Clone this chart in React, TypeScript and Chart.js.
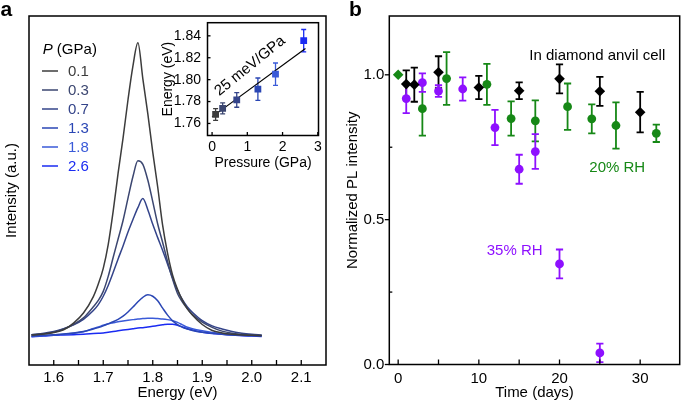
import React, { useEffect, useRef } from "react";
import { Chart, registerables } from "chart.js";

Chart.register(...registerables);

const FONT = "'Liberation Sans', Arial, Helvetica, sans-serif";
Chart.defaults.font.family = FONT;
Chart.defaults.color = "#000";

// ---------- Panel a: PL spectra ----------
const energy = [1.555, 1.58, 1.6, 1.62, 1.64, 1.66, 1.68, 1.69, 1.7, 1.71, 1.72, 1.73, 1.74, 1.75, 1.76, 1.77, 1.78, 1.79, 1.8, 1.81, 1.82, 1.83, 1.84, 1.85, 1.86, 1.87, 1.88, 1.9, 1.92, 1.94, 1.96, 1.98, 2.0, 2.02];
const int01 = [0.086, 0.089, 0.093, 0.101, 0.12, 0.149, 0.196, 0.232, 0.277, 0.345, 0.44, 0.55, 0.65, 0.76, 0.857, 0.923, 0.82, 0.72, 0.61, 0.51, 0.4, 0.32, 0.258, 0.217, 0.185, 0.161, 0.143, 0.116, 0.099, 0.092, 0.088, 0.086, 0.085, 0.084];
const int03 = [0.087, 0.089, 0.094, 0.103, 0.116, 0.135, 0.167, 0.185, 0.211, 0.254, 0.308, 0.361, 0.414, 0.478, 0.54, 0.585, 0.575, 0.53, 0.468, 0.404, 0.351, 0.296, 0.246, 0.205, 0.18, 0.161, 0.145, 0.123, 0.108, 0.097, 0.091, 0.088, 0.086, 0.085];
const int07 = [0.087, 0.091, 0.096, 0.104, 0.115, 0.131, 0.156, 0.173, 0.197, 0.228, 0.265, 0.304, 0.341, 0.381, 0.417, 0.451, 0.477, 0.445, 0.403, 0.365, 0.328, 0.289, 0.25, 0.214, 0.187, 0.166, 0.151, 0.127, 0.112, 0.103, 0.096, 0.091, 0.088, 0.086];
const int13 = [0.083, 0.085, 0.087, 0.089, 0.092, 0.096, 0.103, 0.107, 0.112, 0.118, 0.124, 0.131, 0.14, 0.152, 0.166, 0.181, 0.194, 0.201, 0.197, 0.184, 0.163, 0.143, 0.127, 0.116, 0.108, 0.103, 0.099, 0.094, 0.091, 0.088, 0.086, 0.085, 0.084, 0.084];
const int18 = [0.082, 0.084, 0.086, 0.088, 0.091, 0.095, 0.105, 0.109, 0.114, 0.118, 0.121, 0.124, 0.126, 0.128, 0.13, 0.132, 0.133, 0.134, 0.134, 0.133, 0.132, 0.13, 0.127, 0.122, 0.115, 0.108, 0.104, 0.098, 0.093, 0.09, 0.088, 0.086, 0.085, 0.084];
const int26 = [0.081, 0.083, 0.085, 0.086, 0.087, 0.088, 0.09, 0.091, 0.092, 0.094, 0.096, 0.098, 0.1, 0.102, 0.104, 0.106, 0.107, 0.109, 0.111, 0.113, 0.115, 0.117, 0.117, 0.114, 0.109, 0.104, 0.1, 0.094, 0.09, 0.088, 0.086, 0.084, 0.083, 0.082];
const pressureLabels = ["0.1", "0.3", "0.7", "1.3", "1.8", "2.6"];
const curves = [int01, int03, int07, int13, int18, int26];
const curveColors = ["#3c3c3c", "#3b4670", "#34448a", "#2a46b4", "#3a5ad8", "#1a2bf2"];
const energyTicks = [1.6, 1.65, 1.7, 1.75, 1.8, 1.85, 1.9, 1.95, 2.0, 2.05, 2.1];
const energyTickLabels = ["1.6", "", "1.7", "", "1.8", "", "1.9", "", "2.0", "", "2.1"];

// ---------- Inset: peak energy vs pressure ----------
const insetPressure = [0.1, 0.3, 0.7, 1.3, 1.8, 2.6];
const insetEnergy = [1.7682, 1.7737, 1.7815, 1.7913, 1.805, 1.8356];
const insetError = [0.0053, 0.005, 0.0067, 0.0102, 0.0102, 0.0102];
const fitPressure = [0, 2.65];
const fitEnergy = [1.766, 1.8285];
const insetXTicks = [0, 1, 2, 3];
const insetXLabels = ["0", "1", "2", "3"];
const insetYTicks = [1.76, 1.78, 1.8, 1.82, 1.84];
const insetYLabels = ["1.76", "1.78", "1.80", "1.82", "1.84"];

// ---------- Panel b: stability ----------
const dacDays = [1, 2, 5, 10, 15, 20, 25, 30];
const dacValues = [0.968, 0.966, 1.009, 0.956, 0.945, 0.986, 0.943, 0.871];
const dacErrors = [0.047, 0.059, 0.055, 0.04, 0.029, 0.05, 0.05, 0.07];
const rh20Days = [0, 3, 6, 11, 14, 17, 21, 24, 27, 32];
const rh20Values = [1.0, 0.883, 0.987, 0.967, 0.849, 0.841, 0.89, 0.848, 0.825, 0.798];
const rh20Errors = [0, 0.093, 0.091, 0.071, 0.059, 0.071, 0.08, 0.05, 0.08, 0.03];
const rh35Days = [1, 3, 5, 8, 12, 15, 17, 20, 25];
const rh35Values = [0.918, 0.973, 0.944, 0.951, 0.818, 0.674, 0.735, 0.347, 0.04];
const rh35Errors = [0.05, 0.032, 0.02, 0.04, 0.061, 0.05, 0.06, 0.05, 0.032];
const timeTicks = [0, 5, 10, 15, 20, 25, 30];
const timeLabels = ["0", "", "10", "", "20", "", "30"];
const normTicks = [0, 0.25, 0.5, 0.75, 1.0];
const normLabels = ["0.0", "", "0.5", "", "1.0"];

const BLACK = "#000000";
const GREEN = "#168816";
const PURPLE = "#8e10ff";

type Mark = { axis: string; values: number[]; len: number; dir: "in" | "out" };
type Txt = {
  text: string; x: number; y: number; color?: string; size?: number;
  weight?: string; style?: string; align?: CanvasTextAlign; baseline?: CanvasTextBaseline; angle?: number;
};

function framePlugin(marks: Mark[]) {
  return {
    id: "frame",
    afterDraw(chart: any) {
      const { ctx, chartArea: a } = chart;
      ctx.save();
      ctx.strokeStyle = "#000";
      ctx.lineWidth = 1.3;
      marks.forEach((m) => {
        const s = chart.scales[m.axis];
        m.values.forEach((v) => {
          const p = s.getPixelForValue(v);
          ctx.beginPath();
          if (s.isHorizontal()) {
            ctx.moveTo(p, a.bottom);
            ctx.lineTo(p, a.bottom + (m.dir === "in" ? -m.len : m.len));
          } else {
            ctx.moveTo(a.left, p);
            ctx.lineTo(a.left + (m.dir === "in" ? m.len : -m.len), p);
          }
          ctx.stroke();
        });
      });
      ctx.lineWidth = 1.5;
      ctx.strokeRect(a.left, a.top, a.right - a.left, a.bottom - a.top);
      ctx.restore();
    },
  };
}

function textPlugin(items: Txt[]) {
  return {
    id: "texts",
    afterDraw(chart: any) {
      const ctx = chart.ctx;
      items.forEach((t) => {
        ctx.save();
        ctx.font = `${t.style || "normal"} ${t.weight || "normal"} ${t.size || 15}px ${FONT}`;
        ctx.fillStyle = t.color || "#000";
        ctx.textAlign = t.align || "left";
        ctx.textBaseline = t.baseline || "alphabetic";
        ctx.translate(t.x, t.y);
        if (t.angle) ctx.rotate((t.angle * Math.PI) / 180);
        ctx.fillText(t.text, 0, 0);
        ctx.restore();
      });
    },
  };
}

function legendPlugin() {
  return {
    id: "pLegend",
    afterDraw(chart: any) {
      const ctx = chart.ctx;
      ctx.save();
      ctx.textBaseline = "alphabetic";
      ctx.fillStyle = "#000";
      ctx.font = `italic normal 15px ${FONT}`;
      ctx.fillText("P", 42.7, 53.5);
      const w = ctx.measureText("P").width;
      ctx.font = `normal normal 15px ${FONT}`;
      ctx.fillText(" (GPa)", 42.7 + w, 53.5);
      chart.data.datasets.forEach((ds: any, i: number) => {
        const y = 71 + i * 19;
        ctx.strokeStyle = ds.borderColor;
        ctx.lineWidth = 1.5;
        ctx.beginPath();
        ctx.moveTo(42, y);
        ctx.lineTo(58, y);
        ctx.stroke();
        ctx.fillStyle = ds.borderColor;
        ctx.fillText(ds.label, 68, y + 5.4);
      });
      ctx.restore();
    },
  };
}

function errorBarPlugin(capHalf: number, lw: number) {
  return {
    id: "errorBars",
    beforeDatasetsDraw(chart: any) {
      const ctx = chart.ctx;
      chart.data.datasets.forEach((ds: any, i: number) => {
        if (!ds.errors) return;
        const meta = chart.getDatasetMeta(i);
        const xs = chart.scales[meta.xAxisID];
        const ys = chart.scales[meta.yAxisID];
        ds.data.forEach((pt: any, j: number) => {
          const e = ds.errors[j];
          if (!e) return;
          const color = Array.isArray(ds.borderColor) ? ds.borderColor[j] : ds.borderColor;
          const x = xs.getPixelForValue(pt.x);
          const t = ys.getPixelForValue(pt.y + e);
          const b = ys.getPixelForValue(pt.y - e);
          ctx.save();
          ctx.strokeStyle = color;
          ctx.lineWidth = lw;
          ctx.beginPath();
          ctx.moveTo(x, t);
          ctx.lineTo(x, b);
          ctx.moveTo(x - capHalf, t);
          ctx.lineTo(x + capHalf, t);
          ctx.moveTo(x - capHalf, b);
          ctx.lineTo(x + capHalf, b);
          ctx.stroke();
          ctx.restore();
        });
      });
    },
  };
}

function axisBase(size: number) {
  return {
    type: "linear" as const,
    grid: { display: false, drawTicks: false },
    border: { display: false },
    ticks: { font: { size }, color: "#000", autoSkip: false, maxRotation: 0, minRotation: 0 },
  };
}

function configA(): any {
  return {
    type: "line",
    data: {
      datasets: curves.map((c, i) => ({
        label: pressureLabels[i],
        data: energy.map((e, k) => ({ x: e, y: c[k] })),
        borderColor: curveColors[i],
        borderWidth: 1.5,
        pointRadius: 0,
        fill: false,
        cubicInterpolationMode: "monotone",
      })),
    },
    options: {
      responsive: false,
      animation: false,
      events: [],
      layout: { padding: { left: 0, top: 16, right: 359, bottom: 0 } },
      plugins: { legend: { display: false }, tooltip: { enabled: false } },
      scales: {
        x: {
          ...axisBase(15),
          min: 1.55,
          max: 2.15,
          afterBuildTicks: (s: any) => { s.ticks = energyTicks.map((v) => ({ value: v })); },
          afterFit: (s: any) => { s.height = 38; },
          ticks: { ...axisBase(15).ticks, padding: 4, callback: (_v: any, i: number) => energyTickLabels[i] },
          title: { display: true, text: "Energy (eV)", font: { size: 15 }, color: "#000", padding: { top: 0, bottom: 1 } },
        },
        y: {
          ...axisBase(15),
          min: 0,
          max: 1,
          afterFit: (s: any) => { s.width = 29; },
          ticks: { display: false },
          title: { display: true, text: "Intensity (a.u.)", font: { size: 15 }, color: "#000", padding: { top: 3, bottom: 0 } },
        },
      },
    },
    plugins: [
      framePlugin([{ axis: "x", values: energyTicks, len: 5, dir: "in" }]),
      legendPlugin(),
      textPlugin([{ text: "a", x: 0.5, y: 16, size: 21, weight: "bold" }]),
    ],
  };
}

function configInset(): any {
  return {
    type: "scatter",
    data: {
      datasets: [
        {
          data: insetPressure.map((p, i) => ({ x: p, y: insetEnergy[i] })),
          pointStyle: "rect",
          pointRadius: 4.8,
          backgroundColor: curveColors,
          borderColor: curveColors,
          borderWidth: 0,
          errors: insetError,
        },
        {
          data: fitPressure.map((p, i) => ({ x: p, y: fitEnergy[i] })),
          showLine: true,
          borderColor: "#000",
          borderWidth: 1.2,
          pointRadius: 0,
        },
      ],
    },
    options: {
      responsive: false,
      animation: false,
      events: [],
      layout: { padding: { left: 158, top: 22.7, right: 366.5, bottom: 231 } },
      plugins: { legend: { display: false }, tooltip: { enabled: false } },
      scales: {
        x: {
          ...axisBase(14),
          min: -0.13,
          max: 3.02,
          afterBuildTicks: (s: any) => { s.ticks = insetXTicks.map((v) => ({ value: v })); },
          afterFit: (s: any) => { s.height = 36.5; },
          ticks: { ...axisBase(14).ticks, padding: 3, callback: (_v: any, i: number) => insetXLabels[i] },
          title: { display: true, text: "Pressure (GPa)", font: { size: 14 }, color: "#000", padding: { top: 0, bottom: 0 } },
        },
        y: {
          ...axisBase(14),
          min: 1.749,
          max: 1.852,
          afterBuildTicks: (s: any) => { s.ticks = insetYTicks.map((v) => ({ value: v })); },
          afterFit: (s: any) => { s.width = 49.5; },
          ticks: { ...axisBase(14).ticks, padding: 6.5, callback: (_v: any, i: number) => insetYLabels[i] },
          title: { display: true, text: "Energy (eV)", font: { size: 14 }, color: "#000", padding: { top: 2, bottom: 0 } },
        },
      },
    },
    plugins: [
      errorBarPlugin(2.5, 1.3),
      framePlugin([
        { axis: "x", values: insetXTicks, len: 3.5, dir: "in" },
        { axis: "y", values: insetYTicks, len: 3, dir: "in" },
      ]),
      textPlugin([{ text: "25 meV/GPa", x: 250, y: 66, size: 15, align: "center", baseline: "middle", angle: -39 }]),
    ],
  };
}

function configB(): any {
  return {
    type: "scatter",
    data: {
      datasets: [
        {
          label: "In diamond anvil cell",
          data: dacDays.map((d, i) => ({ x: d, y: dacValues[i] })),
          pointStyle: "rectRot",
          pointRadius: 5.3,
          backgroundColor: BLACK,
          borderColor: BLACK,
          borderWidth: 0,
          errors: dacErrors,
        },
        {
          label: "20% RH",
          data: rh20Days.map((d, i) => ({ x: d, y: rh20Values[i] })),
          pointStyle: rh20Days.map((_d, i) => (i === 0 ? "rectRot" : "circle")),
          pointRadius: rh20Days.map((_d, i) => (i === 0 ? 5.3 : 4.4)),
          backgroundColor: GREEN,
          borderColor: GREEN,
          borderWidth: 0,
          errors: rh20Errors,
        },
        {
          label: "35% RH",
          data: rh35Days.map((d, i) => ({ x: d, y: rh35Values[i] })),
          pointStyle: "circle",
          pointRadius: 4.4,
          backgroundColor: PURPLE,
          borderColor: PURPLE,
          borderWidth: 0,
          errors: rh35Errors,
        },
      ],
    },
    options: {
      responsive: false,
      animation: false,
      events: [],
      layout: { padding: { left: 340, top: 16, right: 1.5, bottom: 0 } },
      plugins: { legend: { display: false }, tooltip: { enabled: false } },
      scales: {
        x: {
          ...axisBase(15),
          min: -1.1,
          max: 34.9,
          afterBuildTicks: (s: any) => { s.ticks = timeTicks.map((v) => ({ value: v })); },
          afterFit: (s: any) => { s.height = 38.5; },
          ticks: { ...axisBase(15).ticks, padding: 5, callback: (_v: any, i: number) => timeLabels[i] },
          title: { display: true, text: "Time (days)", font: { size: 15 }, color: "#000", padding: { top: 0, bottom: 1 } },
        },
        y: {
          ...axisBase(15),
          min: 0,
          max: 1.203,
          afterBuildTicks: (s: any) => { s.ticks = normTicks.map((v) => ({ value: v })); },
          afterFit: (s: any) => { s.width = 49.3; },
          ticks: { ...axisBase(15).ticks, padding: 5, callback: (_v: any, i: number) => normLabels[i] },
          title: { display: true, text: "Normalized PL intensity", font: { size: 15 }, color: "#000", padding: { top: 4, bottom: 0 } },
        },
      },
    },
    plugins: [
      errorBarPlugin(3.6, 1.8),
      framePlugin([
        { axis: "x", values: timeTicks, len: 5, dir: "in" },
        { axis: "y", values: [0, 0.5, 1.0], len: 4.5, dir: "out" },
        { axis: "y", values: [0.25, 0.75], len: 3, dir: "in" },
      ]),
      textPlugin([
        { text: "b", x: 349, y: 16, size: 21, weight: "bold" },
        { text: "In diamond anvil cell", x: 529.3, y: 59.5, color: BLACK },
        { text: "20% RH", x: 589.3, y: 171.5, color: GREEN },
        { text: "35% RH", x: 486.7, y: 255, color: PURPLE },
      ]),
    ],
  };
}

export default function App() {
  const aRef = useRef<HTMLCanvasElement>(null);
  const insetRef = useRef<HTMLCanvasElement>(null);
  const bRef = useRef<HTMLCanvasElement>(null);

  useEffect(() => {
    const charts = [
      new Chart(aRef.current as HTMLCanvasElement, configA()),
      new Chart(insetRef.current as HTMLCanvasElement, configInset()),
      new Chart(bRef.current as HTMLCanvasElement, configB()),
    ];
    return () => charts.forEach((c) => c.destroy());
  }, []);

  const cs: React.CSSProperties = { position: "absolute", left: 0, top: 0 };
  return (
    <div style={{ position: "absolute", left: 0, top: 0, width: 685, height: 403, background: "#fff", overflow: "hidden" }}>
      <canvas ref={aRef} width={685} height={403} style={cs} />
      <canvas ref={insetRef} width={685} height={403} style={cs} />
      <canvas ref={bRef} width={685} height={403} style={cs} />
    </div>
  );
}
